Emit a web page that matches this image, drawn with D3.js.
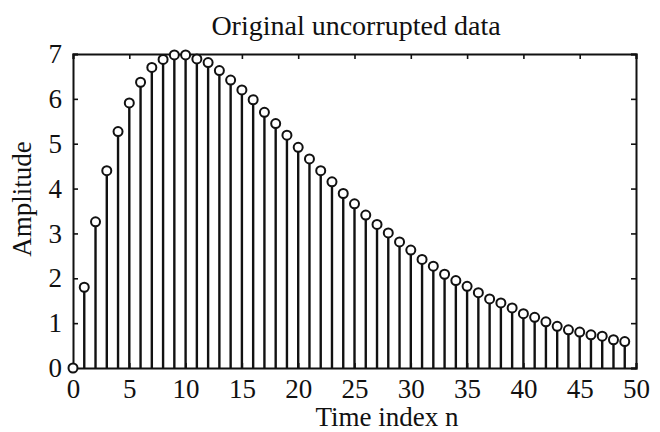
<!DOCTYPE html>
<html>
<head>
<meta charset="utf-8">
<script src="https://cdn.jsdelivr.net/npm/d3@7"></script>
<style>
  body { margin: 0; background: #fff; }
  text { font-family: "Liberation Serif", "Times New Roman", serif; fill: #111; }
</style>
</head>
<body>
<script>
// valeurs (n = 0..49)
const indices = d3.range(0, 50);
const amplitudes = [
  0, 1.80, 3.26, 4.40, 5.27, 5.91, 6.37, 6.70, 6.88, 6.98,
  6.98, 6.89, 6.81, 6.63, 6.42, 6.20, 5.98, 5.70, 5.45, 5.19,
  4.92, 4.66, 4.40, 4.15, 3.89, 3.66, 3.41, 3.20, 3.01, 2.81,
  2.63, 2.42, 2.27, 2.09, 1.95, 1.82, 1.68, 1.54, 1.45, 1.34,
  1.21, 1.13, 1.03, 0.93, 0.85, 0.80, 0.74, 0.71, 0.63, 0.59
];
const ticksX = [0, 5, 10, 15, 20, 25, 30, 35, 40, 45, 50];
const ticksY = [0, 1, 2, 3, 4, 5, 6, 7];
const titre = 'Original uncorrupted data';
const labelX = 'Time index n';
const labelY = 'Amplitude';

const W = 660, H = 432;
const marge = { left: 73, right: 24, top: 54, bottom: 64 };

const svg = d3.select('body')
  .append('svg')
  .attr('width', W)
  .attr('height', H);

const x = d3.scaleLinear()
  .domain([0, 50])
  .range([marge.left, W - marge.right]);
const y = d3.scaleLinear()
  .domain([0, 7])
  .range([H - marge.bottom, marge.top]);

const g = svg.append('g');

// tiges
g.selectAll('line.tige')
  .data(indices)
  .enter()
  .append('line')
  .attr('class', 'tige')
  .attr('x1', d => x(d))
  .attr('x2', d => x(d))
  .attr('y1', y(0))
  .attr('y2', d => y(amplitudes[d]))
  .attr('stroke', '#111')
  .attr('stroke-width', 2.4);

// axes (cadre)
const axeBas = d3.axisBottom(x).tickValues(ticksX).tickSize(-5).tickPadding(11).tickFormat(d3.format('d'));
const axeHaut = d3.axisTop(x).tickValues(ticksX).tickSize(-5).tickFormat('');
const axeGauche = d3.axisLeft(y).tickValues(ticksY).tickSize(-5).tickPadding(11).tickFormat(d3.format('d'));
const axeDroit = d3.axisRight(y).tickValues(ticksY).tickSize(-5).tickFormat('');

g.append('g').attr('transform', `translate(0,${y(0)})`).call(axeBas);
g.append('g').attr('transform', `translate(0,${y(7)})`).call(axeHaut);
g.append('g').attr('transform', `translate(${x(0)},0)`).call(axeGauche);
g.append('g').attr('transform', `translate(${x(50)},0)`).call(axeDroit);

g.selectAll('.domain').attr('stroke', '#111').attr('stroke-width', 2);
g.selectAll('.tick line').attr('stroke', '#111').attr('stroke-width', 1.6);
g.selectAll('.tick text')
  .style('font-family', '"Liberation Serif", serif')
  .style('font-size', '27px')
  .attr('fill', '#111');

// marqueurs
g.selectAll('circle.point')
  .data(indices)
  .enter()
  .append('circle')
  .attr('class', 'point')
  .attr('cx', d => x(d))
  .attr('cy', d => y(amplitudes[d]))
  .attr('r', 4.5)
  .attr('fill', '#fff')
  .attr('stroke', '#111')
  .attr('stroke-width', 2);

// titres
svg.append('text')
  .attr('x', 356)
  .attr('y', 35)
  .attr('text-anchor', 'middle')
  .style('font-size', '28px')
  .text(titre);

svg.append('text')
  .attr('x', 387)
  .attr('y', 426)
  .attr('text-anchor', 'middle')
  .style('font-size', '27px')
  .text(labelX);

svg.append('text')
  .attr('transform', `translate(31,${(y(0) + y(7)) / 2 - 12}) rotate(-90)`)
  .attr('text-anchor', 'middle')
  .style('font-size', '27px')
  .text(labelY);
</script>
</body>
</html>
